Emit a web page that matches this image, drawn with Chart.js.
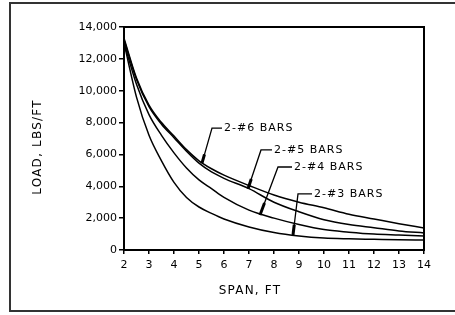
<!DOCTYPE html>
<html>
<head>
<meta charset="utf-8">
<script src="https://cdn.jsdelivr.net/npm/chart.js@4"></script>
<style>
  html,body{margin:0;padding:0;background:#fff;}
  #wrap{position:relative;width:455px;height:315px;}
</style>
</head>
<body>
<div id="wrap"><canvas id="chart" width="455" height="315"></canvas></div>
<script>
// span in ft, load in lbs/ft
const spans = [2,2.5,3,3.5,4,4.5,5,5.5,6,7,8,9,10,11,12,13,14];
const load6 = [13300,10800,9100,8000,7150,6300,5600,5100,4700,4050,3450,3000,2650,2250,1950,1650,1380];
const load5 = [13200,10700,9000,7900,7050,6200,5450,4900,4500,3850,3000,2400,1900,1600,1400,1200,1070];
const load4 = [13000,10400,8500,7200,6100,5150,4400,3850,3300,2500,2000,1600,1280,1120,1000,940,880];
const load3 = [13000,9600,7200,5600,4250,3300,2700,2300,1950,1450,1100,880,750,700,670,640,620];

const yTicks = [0,2000,4000,6000,8000,10000,12000,14000];

// curve labels with leader lines (data units)
const labelText   = ["2-#6 BARS","2-#5 BARS","2-#4 BARS","2-#3 BARS"];
const labelX      = [5.96, 7.96, 8.76, 9.56];
const labelY      = [7650, 6280, 5210, 3520];
const elbowX      = [5.52, 7.48, 8.16, 8.96];
const anchorX     = [5.12, 6.96, 7.44, 8.76];
const anchorY     = [5450, 3850, 2200, 940];

const pts = arr => spans.map((s,i)=>({x:s,y:arr[i]}));
const line = (label,arr) => ({label,data:pts(arr),borderColor:"#000",borderWidth:1.5,pointRadius:0,cubicInterpolationMode:"monotone",fill:false});

const decor = {
  id:"decor",
  afterDraw(chart){
    const {ctx,chartArea:a,scales:{x,y}} = chart;
    ctx.save();
    // outer frame
    ctx.strokeStyle="#333"; ctx.lineWidth=2;
    ctx.strokeRect(10,3,460,308);
    // plot box
    ctx.strokeStyle="#000"; ctx.lineWidth=2;
    ctx.strokeRect(a.left,a.top,a.right-a.left,a.bottom-a.top);
    // leaders + labels
    ctx.fillStyle="#000"; ctx.font="11px 'DejaVu Sans'";
    ctx.letterSpacing="1px";
    ctx.textBaseline="middle"; ctx.textAlign="left";
    labelText.forEach((t,i)=>{
      const tx=x.getPixelForValue(labelX[i]), ty=y.getPixelForValue(labelY[i]);
      const ex=x.getPixelForValue(elbowX[i]);
      const ax=x.getPixelForValue(anchorX[i]), ay=y.getPixelForValue(anchorY[i]);
      ctx.lineWidth=1.3;
      ctx.beginPath(); ctx.moveTo(tx-1,ty); ctx.lineTo(ex,ty); ctx.lineTo(ax,ay); ctx.stroke();
      // heavy tip near the curve
      const f=0.25;
      ctx.lineWidth=3;
      ctx.beginPath(); ctx.moveTo(ax+(ex-ax)*f,ay+(ty-ay)*f); ctx.lineTo(ax,ay); ctx.stroke();
      ctx.fillText(t,tx+1,ty);
    });
    // axis titles
    ctx.font="12px 'DejaVu Sans'"; ctx.letterSpacing="1.2px";
    ctx.textAlign="center";
    ctx.fillText("SPAN, FT",a.left+126,291);
    ctx.translate(38,147); ctx.rotate(-Math.PI/2);
    ctx.fillText("LOAD, LBS/FT",0,0);
    ctx.restore();
  }
};

new Chart(document.getElementById("chart"),{
  type:"line",
  data:{datasets:[line("2-#6 BARS",load6),line("2-#5 BARS",load5),line("2-#4 BARS",load4),line("2-#3 BARS",load3)]},
  options:{
    responsive:false,animation:false,
    layout:{padding:{top:27,right:31,left:0,bottom:0}},
    plugins:{legend:{display:false},tooltip:{enabled:false}},
    scales:{
      x:{type:"linear",min:2,max:14,
        afterFit:s=>{s.height=65;},
        border:{color:"#000",width:2},
        grid:{drawOnChartArea:false,color:"#000",lineWidth:1.5,tickLength:4},
        ticks:{stepSize:1,color:"#000",padding:5,font:{family:"DejaVu Sans",size:11}}},
      y:{min:0,max:14000,
        afterFit:s=>{s.width=124;},
        afterBuildTicks:s=>{s.ticks=yTicks.map(v=>({value:v}));},
        border:{color:"#000",width:2},
        grid:{drawOnChartArea:false,color:"#000",lineWidth:1.5,tickLength:5},
        ticks:{color:"#000",padding:2,font:{family:"DejaVu Sans",size:11},
          callback:v=>v.toLocaleString("en-US")}}
    }
  },
  plugins:[decor]
});
</script>
</body>
</html>
